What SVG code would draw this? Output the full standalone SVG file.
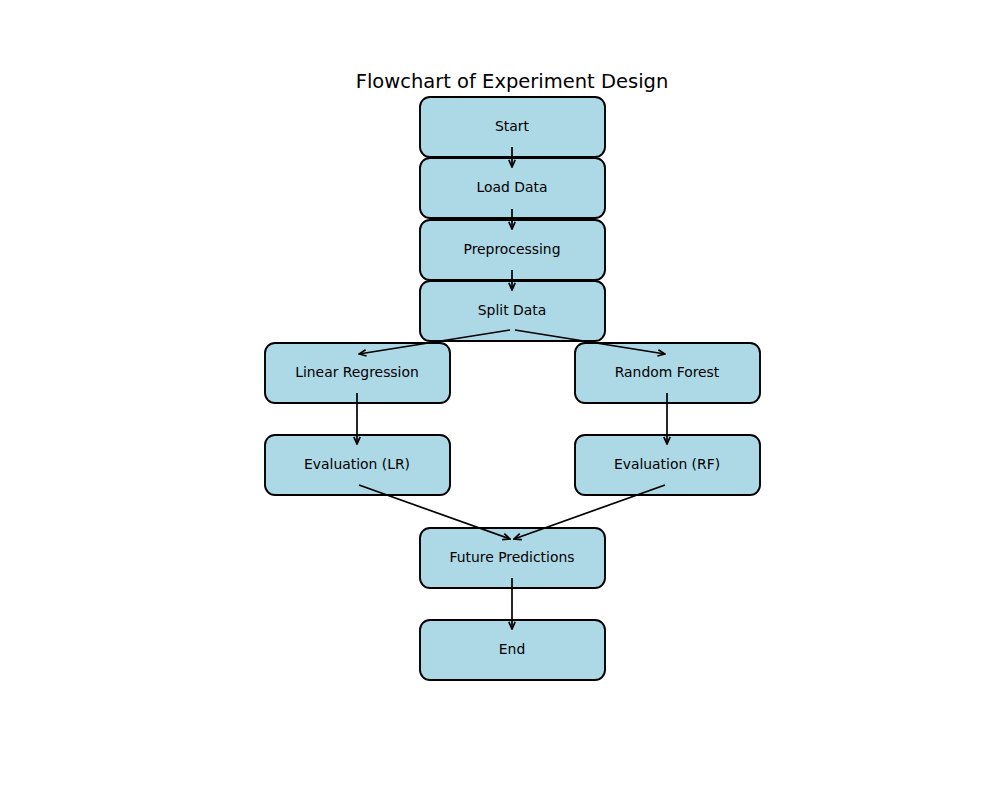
<svg xmlns="http://www.w3.org/2000/svg" width="1000" height="800" viewBox="0 0 1000 800">
<style>
.box{fill:#add8e6;stroke:#000;stroke-width:1.9}
.lbl{font-family:"DejaVu Sans",sans-serif;font-size:13.9px;fill:#000;text-anchor:middle;dominant-baseline:central}
.title{font-family:"DejaVu Sans",sans-serif;font-size:19.5px;fill:#000;text-anchor:middle;dominant-baseline:central}
.edge{stroke:#000;stroke-width:1.7;fill:none;marker-end:url(#ah)}
</style>
<defs>
<marker id="ah" viewBox="0 0 10 10" refX="9" refY="5" markerWidth="9" markerHeight="9" orient="auto" markerUnits="userSpaceOnUse">
<path d="M1,1.5 L9,5 L1,8.5" fill="none" stroke="#000" stroke-width="1.9"/>
</marker>
</defs>
<rect width="1000" height="800" fill="#fff"/>
<text class="title" x="512" y="81">Flowchart of Experiment Design</text>
<g id="start"><rect class="box" x="420" y="97" width="185" height="60" rx="10"/><text class="lbl" x="512" y="126">Start</text></g>
<g id="load"><rect class="box" x="420" y="158" width="185" height="60" rx="10"/><text class="lbl" x="512" y="187">Load Data</text></g>
<g id="prep"><rect class="box" x="420" y="220" width="185" height="60" rx="10"/><text class="lbl" x="512" y="249">Preprocessing</text></g>
<g id="split"><rect class="box" x="420" y="281" width="185" height="60" rx="10"/><text class="lbl" x="512" y="310">Split Data</text></g>
<g id="lr"><rect class="box" x="265" y="343" width="185" height="60" rx="10"/><text class="lbl" x="357" y="372">Linear Regression</text></g>
<g id="rf"><rect class="box" x="575" y="343" width="185" height="60" rx="10"/><text class="lbl" x="667" y="372">Random Forest</text></g>
<g id="evallr"><rect class="box" x="265" y="435" width="185" height="60" rx="10"/><text class="lbl" x="357" y="464">Evaluation (LR)</text></g>
<g id="evalrf"><rect class="box" x="575" y="435" width="185" height="60" rx="10"/><text class="lbl" x="667" y="464">Evaluation (RF)</text></g>
<g id="future"><rect class="box" x="420" y="528" width="185" height="60" rx="10"/><text class="lbl" x="512" y="557">Future Predictions</text></g>
<g id="end"><rect class="box" x="420" y="620" width="185" height="60" rx="10"/><text class="lbl" x="512" y="649">End</text></g>
<g id="connectors">
<line class="edge" x1="512" y1="147" x2="512" y2="167"/>
<line class="edge" x1="512" y1="209" x2="512" y2="229"/>
<line class="edge" x1="512" y1="270" x2="512" y2="290"/>
<line class="edge" x1="510" y1="330" x2="359" y2="354"/>
<line class="edge" x1="515" y1="330" x2="665" y2="354"/>
<line class="edge" x1="357" y1="393" x2="357" y2="444"/>
<line class="edge" x1="667" y1="393" x2="667" y2="444"/>
<line class="edge" x1="359" y1="485" x2="510" y2="539"/>
<line class="edge" x1="665" y1="485" x2="514" y2="539"/>
<line class="edge" x1="512" y1="578" x2="512" y2="629"/>
</g>
</svg>
